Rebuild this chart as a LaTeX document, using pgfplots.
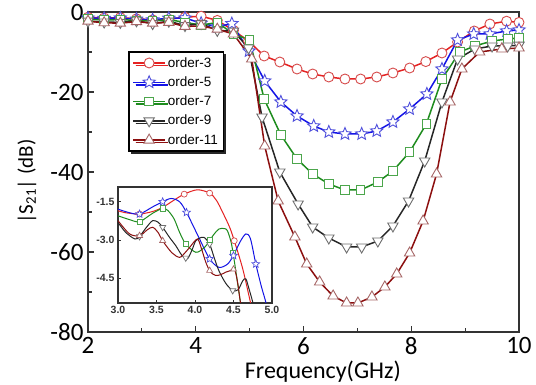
\documentclass[border=0pt]{standalone}
\usepackage{pgfplots}
\pgfplotsset{compat=1.18}
\usepackage{fontspec}
\setmainfont{Carlito}
\newfontfamily\arialf{Liberation Sans}
\usetikzlibrary{shadows,plotmarks}
\definecolor{c3}{HTML}{E52222}
\definecolor{c3m}{HTML}{D64A4A}
\definecolor{c5}{HTML}{1414E6}
\definecolor{c5m}{HTML}{5050DC}
\definecolor{c7}{HTML}{1E8C1E}
\definecolor{c7m}{HTML}{4CA64C}
\definecolor{c9}{HTML}{262626}
\definecolor{c9m}{HTML}{6E6E6E}
\definecolor{c11}{HTML}{8C0F0F}
\definecolor{c11m}{HTML}{A66666}
\definecolor{axc}{HTML}{333333}
\pgfdeclareplotmark{pstar}{%
  \pgfpathmoveto{\pgfpointpolar{90}{\pgfplotmarksize}}%
  \pgfpathlineto{\pgfpointpolar{126}{0.45\pgfplotmarksize}}%
  \pgfpathlineto{\pgfpointpolar{162}{\pgfplotmarksize}}%
  \pgfpathlineto{\pgfpointpolar{198}{0.45\pgfplotmarksize}}%
  \pgfpathlineto{\pgfpointpolar{234}{\pgfplotmarksize}}%
  \pgfpathlineto{\pgfpointpolar{270}{0.45\pgfplotmarksize}}%
  \pgfpathlineto{\pgfpointpolar{306}{\pgfplotmarksize}}%
  \pgfpathlineto{\pgfpointpolar{342}{0.45\pgfplotmarksize}}%
  \pgfpathlineto{\pgfpointpolar{18}{\pgfplotmarksize}}%
  \pgfpathlineto{\pgfpointpolar{54}{0.45\pgfplotmarksize}}%
  \pgfpathclose
  \pgfusepathqfillstroke}
\begin{document}
\begin{tikzpicture}
\useasboundingbox (-88pt,-53pt) rectangle (448pt,332pt);
\begin{axis}[
  at={(0pt,0pt)}, anchor=south west, scale only axis, width=431pt, height=320pt,
  xmin=2, xmax=10, ymin=-80, ymax=0,
  xtick={2,4,6,8,10}, minor xtick={3,5,7,9},
  ytick={-80,-60,-40,-20,0}, minor ytick={-70,-50,-30,-10},
  tick pos=left, major tick length=6pt, minor tick length=4pt,
  axis line style={axc, line width=1.3pt},
  every tick/.style={axc, line width=1.2pt},
  tick label style={font=\fontsize{25}{27}\selectfont},
  xticklabel style={yshift=-2pt},
  yticklabel style={xshift=-1pt},
  /pgf/number format/assume math mode=true,
  xlabel={Frequency(GHz)}, ylabel={|S\textsubscript{21}| (dB)},
  xlabel style={font=\fontsize{24}{26}\selectfont, at={(axis description cs:0.545,-0.124)}, anchor=center},
  ylabel style={font=\fontsize{21}{23}\selectfont, at={(axis description cs:-0.142,0.47)}, anchor=center},
  legend style={at={(0.093,0.878)}, anchor=north west, draw=black, line width=1.6pt, fill=white,
    font=\arialf\fontsize{13.5}{14}\selectfont, row sep=4pt, inner sep=3.5pt,
    drop shadow={shadow xshift=2.5pt, shadow yshift=-2.5pt, fill=black!85, opacity=1}},
  legend cell align=left,
  legend image code/.code={\draw[mark repeat=2,mark phase=2] plot coordinates {(0pt,0pt) (16pt,0pt) (32pt,0pt)};},
]
\addplot[c3, line width=1.5pt, mark=*, mark size=5pt, mark options={draw=c3m, fill=white, line width=0.9pt}] coordinates {
(2.0,-1.3)(2.3,-1.5)(2.6,-1.4)(2.9,-1.7)(3.2,-1.95)(3.5,-1.8)(3.8,-1.3)(4.1,-1.05)(4.4,-2.1)(4.7,-4.6)(4.98,-7.25)(5.27,-11)(5.56,-12.5)(5.88,-14.25)(6.17,-15.5)(6.47,-16.25)(6.77,-16.75)(7.06,-16.75)(7.36,-16.25)(7.66,-15.25)(7.97,-14)(8.27,-12.4)(8.57,-10.25)(8.86,-7.5)(9.17,-4.75)(9.46,-3)(9.77,-2.3)(10.0,-2.6)};
\addlegendentry{order-3}
\addplot[c5, line width=1.5pt, mark=pstar, mark size=6.5pt, mark options={draw=c5m, fill=white, line width=0.9pt}] coordinates {
(2.0,-1.5)(2.3,-1.6)(2.6,-1.5)(2.9,-1.8)(3.2,-1.95)(3.5,-1.55)(3.8,-1.5)(4.1,-2.8)(4.4,-3.7)(4.67,-2.9)(4.99,-9.75)(5.28,-17.25)(5.58,-22.5)(5.88,-26)(6.19,-28.5)(6.47,-30)(6.77,-30.5)(7.08,-30.5)(7.36,-29.75)(7.66,-27.5)(7.97,-24.25)(8.29,-20.5)(8.57,-14.25)(8.86,-7)(9.16,-5.5)(9.46,-5.5)(9.77,-4.75)(10.0,-4.5)};
\addlegendentry{order-5}
\addplot[c7, line width=1.5pt, mark=square*, mark size=4.3pt, mark options={draw=c7m, fill=white, line width=0.9pt}] coordinates {
(2.0,-1.8)(2.3,-2.0)(2.6,-1.9)(2.9,-2.1)(3.2,-2.25)(3.5,-1.9)(3.8,-2.6)(4.1,-3.3)(4.4,-2.6)(4.7,-5.5)(5.0,-7)(5.27,-21.75)(5.58,-30.75)(5.88,-36.75)(6.17,-40.5)(6.47,-43)(6.77,-44.5)(7.06,-44.5)(7.38,-42.5)(7.66,-39.75)(7.97,-35)(8.28,-28)(8.57,-16.75)(8.9,-10)(9.18,-8.5)(9.5,-7.25)(9.79,-6.75)(10.0,-6.5)};
\addlegendentry{order-7}
\addplot[c9, line width=1.5pt, mark=triangle*, mark size=6pt, mark options={draw=c9m, fill=white, line width=0.9pt, rotate=180}] coordinates {
(2.0,-2.3)(2.3,-2.5)(2.6,-2.6)(2.9,-2.2)(3.2,-2.9)(3.5,-2.3)(3.8,-3.4)(4.1,-2.9)(4.4,-4.6)(4.7,-4.8)(4.98,-9)(5.23,-26.25)(5.56,-40)(5.9,-48)(6.17,-53.75)(6.47,-56.5)(6.8,-58.75)(7.08,-58.75)(7.38,-57.25)(7.66,-53.5)(7.95,-47.25)(8.25,-37.25)(8.57,-22.5)(8.86,-11.75)(9.18,-9.25)(9.5,-8.5)(9.79,-8.5)(10.0,-8.3)};
\addlegendentry{order-9}
\addplot[c11, line width=1.5pt, mark=triangle*, mark size=6pt, mark options={draw=c11m, fill=white, line width=0.9pt}] coordinates {
(2.0,-2.3)(2.3,-2.7)(2.6,-2.8)(2.9,-2.4)(3.2,-2.8)(3.5,-2.6)(3.8,-3.6)(4.1,-3.5)(4.4,-4.3)(4.7,-5.5)(5.04,-11.75)(5.28,-33.5)(5.53,-47.25)(5.84,-56.25)(6.06,-63)(6.3,-67.5)(6.55,-71)(6.8,-72.75)(7.01,-72.75)(7.27,-71.25)(7.51,-68.75)(7.73,-65.5)(7.97,-60.25)(8.22,-52.25)(8.47,-40.5)(8.72,-22.5)(8.94,-14.25)(9.27,-10)(9.68,-9.25)(10.0,-9)};
\addlegendentry{order-11}
\end{axis}
\begin{axis}[
  at={(30pt,29pt)}, anchor=south west, scale only axis, width=154pt, height=116pt,
  xmin=3, xmax=5, ymin=-5.47, ymax=-0.92,
  xtick={3,3.5,4,4.5,5}, ytick={-4.5,-3,-1.5},
  tick pos=left, major tick length=3pt,
  axis background/.style={fill=white},
  axis line style={axc, line width=1.1pt},
  every tick/.style={axc, line width=0.8pt},
  tick label style={font=\arialf\bfseries\fontsize{10.5}{11}\selectfont, text=black!80},
  /pgf/number format/.cd, fixed, fixed zerofill, precision=1, assume math mode=true,
]
\addplot[c3, line width=1pt, smooth, tension=0.5] coordinates {(3.0,-1.85)(3.1,-1.93)(3.28,-1.98)(3.45,-1.88)(3.58,-1.72)(3.72,-1.45)(3.86,-1.2)(4.03,-1.03)(4.19,-1.16)(4.28,-1.45)(4.36,-1.92)(4.45,-2.5)(4.51,-3.03)(4.62,-4.13)(4.72,-5.44)(4.76,-5.9)};
\addplot[c5, line width=1pt, smooth, tension=0.5] coordinates {(3.0,-1.79)(3.15,-1.93)(3.28,-1.98)(3.45,-1.7)(3.58,-1.5)(3.69,-1.37)(3.8,-1.5)(3.89,-1.92)(4.05,-2.9)(4.19,-3.74)(4.31,-4.07)(4.42,-3.95)(4.5,-3.61)(4.58,-3.1)(4.66,-2.76)(4.72,-2.95)(4.79,-3.94)(4.86,-4.8)(4.92,-5.44)(4.95,-5.9)};
\addplot[c7, line width=1pt, smooth, tension=0.5] coordinates {(3.0,-2.05)(3.15,-2.2)(3.28,-2.28)(3.45,-1.95)(3.58,-1.76)(3.65,-1.85)(3.73,-2.18)(3.8,-2.7)(3.88,-3.16)(4.01,-3.48)(4.1,-3.35)(4.16,-3.16)(4.24,-2.8)(4.31,-2.57)(4.38,-2.55)(4.42,-2.63)(4.47,-3.1)(4.51,-3.81)(4.59,-5.44)(4.62,-5.9)};
\addplot[c9, line width=1pt, smooth, tension=0.5] coordinates {(3.0,-2.31)(3.1,-2.7)(3.22,-2.96)(3.28,-2.86)(3.37,-2.5)(3.45,-2.24)(3.52,-2.3)(3.58,-2.5)(3.67,-2.9)(3.75,-3.22)(3.83,-3.6)(3.9,-3.74)(3.96,-3.4)(4.01,-3.03)(4.08,-2.9)(4.12,-2.9)(4.19,-3.16)(4.25,-3.7)(4.31,-4.2)(4.4,-4.7)(4.49,-4.98)(4.56,-4.95)(4.62,-4.6)(4.66,-4.52)(4.7,-4.9)(4.75,-5.44)(4.78,-5.9)};
\addplot[c11, line width=1pt, smooth, tension=0.5] coordinates {(3.0,-2.24)(3.15,-2.76)(3.28,-2.83)(3.38,-2.6)(3.45,-2.5)(3.52,-2.7)(3.58,-3.03)(3.7,-3.5)(3.8,-3.68)(3.87,-3.5)(3.93,-3.29)(4.03,-2.96)(4.08,-3.3)(4.14,-3.87)(4.2,-4.25)(4.27,-4.39)(4.34,-4.35)(4.4,-4.26)(4.46,-4.2)(4.51,-4.13)(4.55,-4.6)(4.59,-5.44)(4.62,-5.9)};
\addplot[only marks, mark=*, mark size=3pt, mark options={draw=c3m, fill=white, line width=0.7pt}] coordinates {(3.28,-1.98)(3.86,-1.2)(4.19,-1.16)(4.51,-3.03)};
\addplot[only marks, mark=triangle*, mark size=3.5pt, mark options={draw=c9m, fill=white, line width=0.7pt, rotate=180}] coordinates {(3.28,-2.86)(3.58,-2.5)(3.88,-3.7)(4.19,-3.16)(4.49,-4.98)};
\addplot[only marks, mark=triangle*, mark size=3.5pt, mark options={draw=c11m, fill=white, line width=0.7pt}] coordinates {(3.28,-2.83)(3.58,-3.03)(4.19,-4.2)(4.5,-4.15)};
\addplot[only marks, mark=square*, mark size=2.6pt, mark options={draw=c7m, fill=white, line width=0.7pt}] coordinates {(3.28,-2.28)(3.58,-1.76)(3.88,-3.16)(4.19,-3.0)(4.49,-3.5)};
\addplot[only marks, mark=pstar, mark size=4pt, mark options={draw=c5m, fill=white, line width=0.7pt}] coordinates {(3.28,-1.98)(3.58,-1.5)(3.89,-1.92)(4.19,-3.74)(4.5,-3.61)(4.79,-3.94)};
\end{axis}
\end{tikzpicture}
\end{document}
